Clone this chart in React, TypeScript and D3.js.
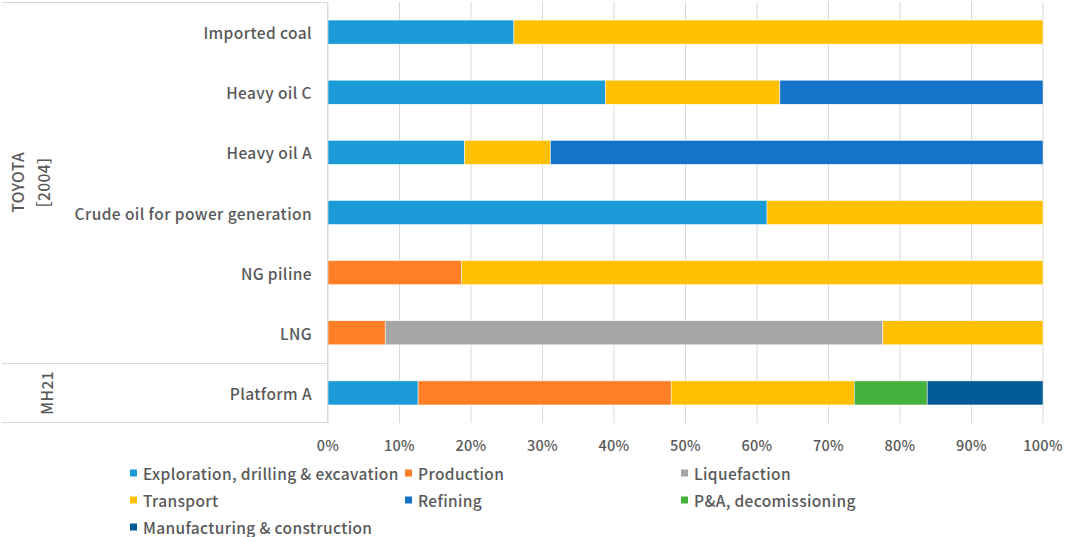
import React from "react";
import * as d3 from "d3";

const categories = [
  "Imported coal",
  "Heavy oil C",
  "Heavy oil A",
  "Crude oil for power generation",
  "NG piline",
  "LNG",
  "Platform A",
];

const seriesNames = [
  "Exploration, drilling & excavation",
  "Production",
  "Liquefaction",
  "Transport",
  "Refining",
  "P&A, decomissioning",
  "Manufacturing & construction",
];

const seriesColors = ["#1a9bd8", "#ff7f27", "#a6a6a6", "#ffc000", "#1573c8", "#45b03c", "#005b94"];

// values in % per category, order matches seriesNames
const exploration = [26.0, 38.8, 19.1, 61.4, 0, 0, 12.6];
const production = [0, 0, 0, 0, 18.7, 8.0, 35.4];
const liquefaction = [0, 0, 0, 0, 0, 69.6, 0];
const transport = [74.0, 24.4, 12.0, 38.6, 81.3, 22.4, 25.6];
const refining = [0, 36.8, 68.9, 0, 0, 0, 0];
const decommissioning = [0, 0, 0, 0, 0, 0, 10.2];
const manufacturing = [0, 0, 0, 0, 0, 0, 16.2];

const seriesValues = [exploration, production, liquefaction, transport, refining, decommissioning, manufacturing];

const xTicks = [0, 10, 20, 30, 40, 50, 60, 70, 80, 90, 100];

const groups = [
  { label: ["TOYOTA", "［2004］"], from: 0, to: 5 },
  { label: ["MH21"], from: 6, to: 6 },
];

const W = 1065;
const H = 537;
const FONT = "'Noto Sans CJK JP', 'Noto Sans', sans-serif";
const TEXT = "#595959";

export default function App() {
  const x = d3.scaleLinear().domain([0, 100]).range([328, 1043]);
  const y = d3.scaleBand().domain(categories).range([2, 423]).paddingInner(0.6).paddingOuter(0.3);
  const band = d3.scaleBand().domain(categories).range([2, 423]);

  const rows = categories.map((c, i) => {
    const obj: any = { cat: c };
    seriesNames.forEach((s, j) => (obj[s] = seriesValues[j][i]));
    return obj;
  });
  const stacked = d3.stack().keys(seriesNames)(rows as any);

  const legendCols = [130, 405, 681];
  const legendRows = [473, 500, 527];

  return (
    <svg width={W} height={H} style={{ position: "absolute", left: 0, top: 0, background: "#fff" }} fontFamily={FONT}>
      {/* gridlines */}
      {xTicks.map((t) => (
        <line key={t} x1={x(t)} x2={x(t)} y1={2} y2={423} stroke="#d9d9d9" strokeWidth={1} />
      ))}
      {/* bars */}
      {stacked.map((layer, j) =>
        layer.map((d, i) =>
          d[1] - d[0] > 0 ? (
            <rect
              key={`${j}-${i}`}
              x={x(d[0])}
              y={y(categories[i])}
              width={x(d[1]) - x(d[0])}
              height={y.bandwidth()}
              fill={seriesColors[j]}
              stroke="#ffffff"
              strokeWidth={0.5}
            />
          ) : null
        )
      )}
      {/* category axis lines */}
      <line x1={2} x2={328} y1={2.5} y2={2.5} stroke="#d9d9d9" />
      <line x1={2} x2={328} y1={363.5} y2={363.5} stroke="#d9d9d9" />
      <line x1={2} x2={328} y1={422.5} y2={422.5} stroke="#d9d9d9" />
      <line x1={327.5} x2={327.5} y1={2} y2={423} stroke="#d9d9d9" />
      {/* category labels */}
      {categories.map((c) => (
        <text
          key={c}
          x={312}
          y={(band(c) as number) + band.bandwidth() / 2}
          textAnchor="end"
          dominantBaseline="central"
          fontSize={15.5}
          letterSpacing={0.4}
          fontWeight={500}
          fill={TEXT}
        >
          {c}
        </text>
      ))}
      {/* group labels */}
      {groups.map((g, gi) => {
        const yc = ((band(categories[g.from]) as number) + (band(categories[g.to]) as number) + band.bandwidth()) / 2;
        const xs = g.label.length === 2 ? [17, 43] : [46];
        return g.label.map((l, li) => (
          <text
            key={`${gi}-${li}`}
            transform={`translate(${xs[li]},${yc}) rotate(-90)`}
            textAnchor="middle"
            dominantBaseline="central"
            fontSize={15.5}
            letterSpacing={0.4}
            fontWeight={500}
            fill={TEXT}
          >
            {l}
          </text>
        ));
      })}
      {/* x tick labels */}
      {xTicks.map((t) => (
        <text
          key={t}
          x={x(t)}
          y={444}
          textAnchor="middle"
          dominantBaseline="central"
          fontSize={14.5}
          letterSpacing={0.3}
          fontWeight={500}
          fill={TEXT}
        >
          {t}%
        </text>
      ))}
      {/* legend */}
      {seriesNames.map((s, i) => {
        const lx = legendCols[i % 3];
        const ly = legendRows[Math.floor(i / 3)];
        return (
          <g key={s}>
            <rect x={lx} y={ly - 3.5} width={7} height={7} fill={seriesColors[i]} />
            <text
              x={lx + 13}
              y={ly}
              dominantBaseline="central"
              fontSize={15.5}
              letterSpacing={0.35}
              fontWeight={500}
              fill={TEXT}
            >
              {s}
            </text>
          </g>
        );
      })}
    </svg>
  );
}
